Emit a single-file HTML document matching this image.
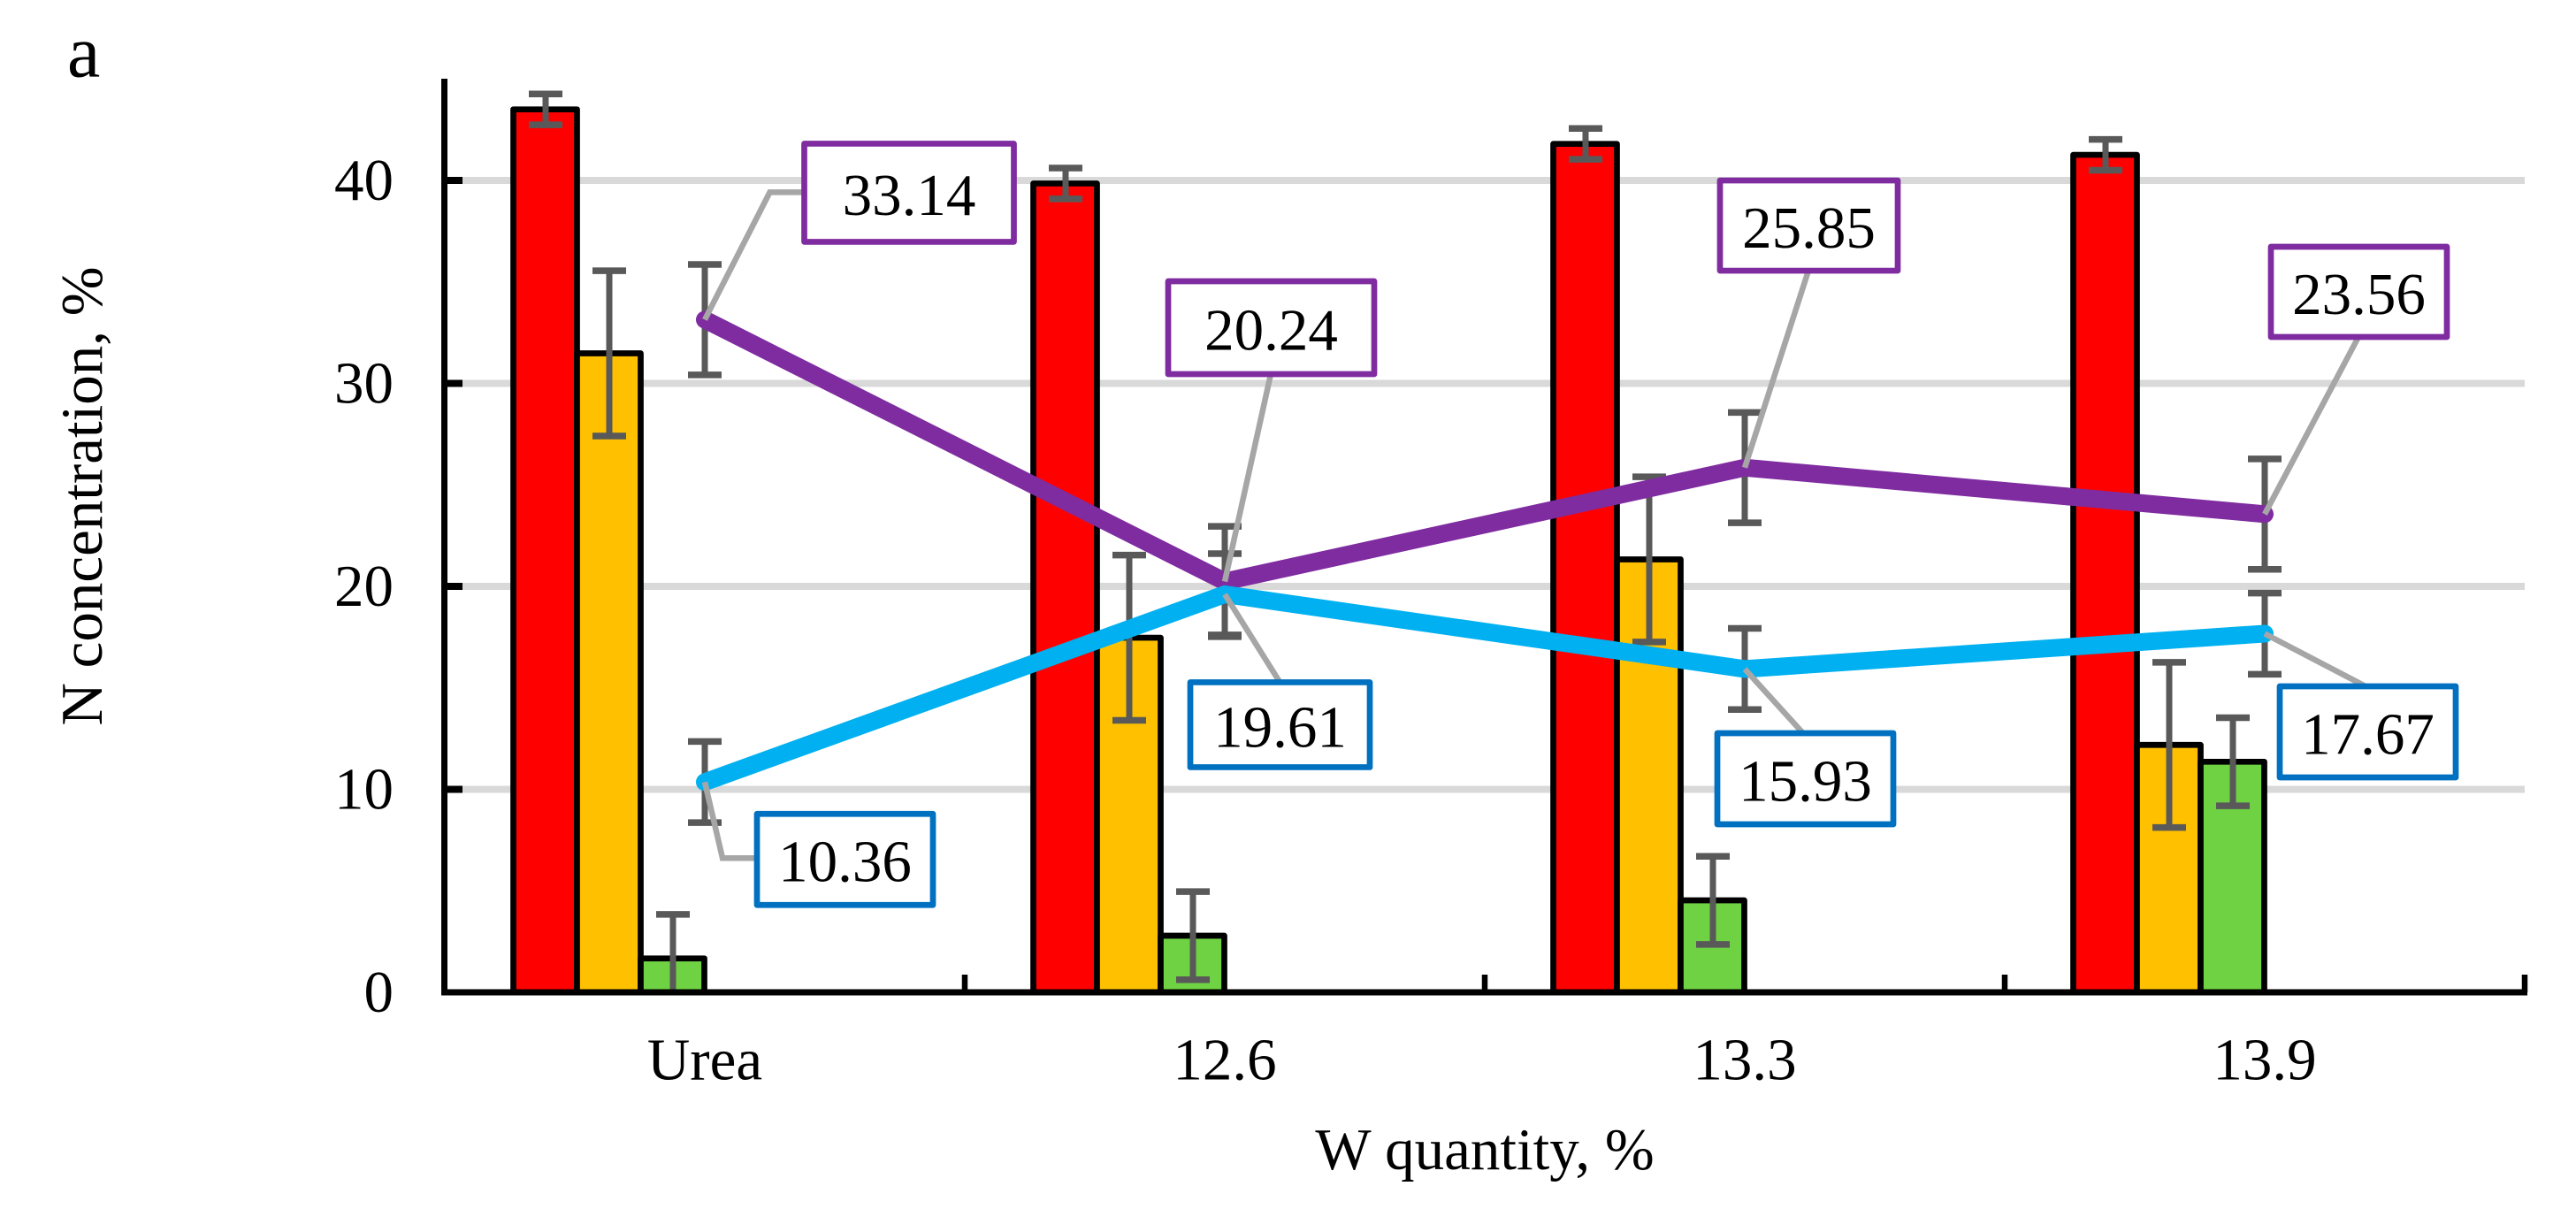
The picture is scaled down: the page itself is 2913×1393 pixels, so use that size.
<!DOCTYPE html>
<html lang="en">
<head>
<meta charset="utf-8">
<title>N concentration vs W quantity</title>
<style>
html,body{margin:0;padding:0;background:#fff;}
svg{display:block;}
text{font-family:"Liberation Serif","Times New Roman",serif;fill:#000;}
</style>
</head>
<body>
<svg id="chart" xmlns="http://www.w3.org/2000/svg" width="2913" height="1393" viewBox="0 0 2913 1393">
  <rect x="0" y="0" width="2913" height="1393" fill="#ffffff"/>
  <text x="76" y="86.5" font-size="84">a</text>
  <text x="115" y="561" font-size="67" text-anchor="middle" transform="rotate(-90 115 561)">N concentration, %</text>
  <text x="1679" y="1322" font-size="67" text-anchor="middle">W quantity, %</text>
</svg>
<script>
const categories = ['Urea', '12.6', '13.3', '13.9'];
const yTicks = [0, 10, 20, 30, 40];

const redValues = [43.5, 39.85, 41.8, 41.26];
const orangeValues = [31.48, 17.47, 21.33, 12.19];
const greenValues = [1.67, 2.79, 4.53, 11.36];
const purpleValues = [33.14, 20.24, 25.85, 23.56];
const blueValues = [10.36, 19.61, 15.93, 17.67];

const redErrors = [0.76, 0.76, 0.76, 0.76];
const orangeErrors = [4.07, 4.07, 4.07, 4.07];
const greenErrors = [2.17, 2.17, 2.17, 2.17];
const purpleErrors = [2.72, 2.72, 2.72, 2.72];
const blueErrors = [2.0, 2.0, 2.0, 2.0];

const svg = document.getElementById('chart');
const NS = 'http://www.w3.org/2000/svg';

function xScale(i) { return 797 + 588 * i; }
function yScale(v) { return 1122 - 22.95 * v; }

function make(tag, attrs) {
  const el = document.createElementNS(NS, tag);
  for (const k in attrs) el.setAttribute(k, attrs[k]);
  svg.appendChild(el);
  return el;
}

/* gridlines */
yTicks.forEach(function (t) {
  if (t === 0) return;
  const grid = make('line', { x1: 503, x2: 2855, y1: yScale(t), y2: yScale(t), stroke: '#d9d9d9', 'stroke-width': 8 });
  
  
});

/* bars */
function drawBars(values, offset, fill, label) {
  values.forEach(function (v, i) {
    const bar = make('rect', {
      x: xScale(i) + offset, y: yScale(v), width: 72, height: yScale(0) - yScale(v),
      fill: fill, stroke: '#000000', 'stroke-width': 6.7, 'stroke-linejoin': 'round'
    });
    
    
  });
}
drawBars(redValues, -216.5, '#ff0000', 'red');
drawBars(orangeValues, -144.5, '#ffc000', 'orange');
drawBars(greenValues, -72.5, '#6fd243', 'green');

/* error bars */
function drawErrors(values, errors, offset, label) {
  values.forEach(function (v, i) {
    const x = xScale(i) + offset;
    const hi = yScale(v + errors[i]);
    const lo = yScale(Math.max(0, v - errors[i]));
    const stem = make('line', { x1: x, x2: x, y1: hi, y2: lo, stroke: '#595959', 'stroke-width': 7 });
    
    
    const top = make('line', { x1: x - 19, x2: x + 19, y1: hi, y2: hi, stroke: '#595959', 'stroke-width': 7.5 });
    
    
    if (v - errors[i] > 0) {
      const bottom = make('line', { x1: x - 19, x2: x + 19, y1: lo, y2: lo, stroke: '#595959', 'stroke-width': 7.5 });
      
      
    }
  });
}
drawErrors(redValues, redErrors, -180, 'red');
drawErrors(orangeValues, orangeErrors, -108, 'orange');
drawErrors(greenValues, greenErrors, -36, 'green');
drawErrors(purpleValues, purpleErrors, 0, 'purple');
drawErrors(blueValues, blueErrors, 0, 'blue');

/* lines */
function drawLine(values, color, label) {
  const pts = values.map(function (v, i) { return xScale(i) + ',' + yScale(v); }).join(' ');
  const line = make('polyline', { points: pts, fill: 'none', stroke: color, 'stroke-width': 20, 'stroke-linejoin': 'miter', 'stroke-linecap': 'round' });
  
  
}
drawLine(purpleValues, '#7f2ca0', 'purple');
drawLine(blueValues, '#00b0f0', 'blue');

/* axes */
const yAxis = make('line', { x1: 502.5, x2: 502.5, y1: 89, y2: 1125, stroke: '#000000', 'stroke-width': 7 });


const xAxis = make('line', { x1: 499, x2: 2858, y1: 1122, y2: 1122, stroke: '#000000', 'stroke-width': 7 });



yTicks.forEach(function (t) {
  const y = yScale(t);
  if (t !== 0) {
    const tick = make('line', { x1: 503, x2: 523, y1: y, y2: y, stroke: '#000000', 'stroke-width': 8 });
    
    
  }
  const label = make('text', { x: 445, y: y + 22, 'font-size': 67, 'text-anchor': 'end' });
  label.textContent = String(t);
  
  
});

categories.forEach(function (c, i) {
  const edge = xScale(i) + 294;
  const tick = make('line', { x1: edge, x2: edge, y1: 1102, y2: 1122, stroke: '#000000', 'stroke-width': 6.5 });
  
  
  const label = make('text', { x: xScale(i), y: 1220.5, 'font-size': 67, 'text-anchor': 'middle' });
  label.textContent = c;
  
  
});

/* callouts: box and leader are placed relative to the data point */
function drawCallout(values, i, color, label, dx, dy, w, h, ax, ay, bx, by) {
  const px = xScale(i);
  const py = yScale(values[i]);
  let pts = px + ',' + py + ' ';
  if (bx !== undefined) pts += (px + bx) + ',' + (py + by) + ' ';
  pts += (px + ax) + ',' + (py + ay);
  const leader = make('polyline', { points: pts, fill: 'none', stroke: '#a6a6a6', 'stroke-width': 6.5 });
  
  
  const box = make('rect', {
    x: px + dx, y: py + dy, width: w, height: h, fill: '#ffffff',
    stroke: color, 'stroke-width': 6.7, 'stroke-linejoin': 'round'
  });
  
  
  const txt = make('text', { x: px + dx + w / 2, y: py + dy + h / 2 + 25, 'font-size': 67, 'text-anchor': 'middle' });
  txt.textContent = values[i].toFixed(2);
  
  
}
drawCallout(purpleValues, 0, '#7f2ca0', 'purple', 112.5, -199, 237, 111, 113, -144, 73.5, -144);
drawCallout(purpleValues, 1, '#7f2ca0', 'purple', -64, -339.5, 233, 105, 52, -234.5);
drawCallout(purpleValues, 2, '#7f2ca0', 'purple', -28, -324.7, 201, 102, 72, -222.7);
drawCallout(purpleValues, 3, '#7f2ca0', 'purple', 7, -302.3, 199, 102, 106, -200.3);
drawCallout(blueValues, 0, '#0070c0', 'blue', 59, 36, 199, 103, 59, 86, 20, 86);
drawCallout(blueValues, 1, '#0070c0', 'blue', -39, 99.5, 203, 96, 62, 99);
drawCallout(blueValues, 2, '#0070c0', 'blue', -31, 72.6, 199, 103, 66, 72.6);
drawCallout(blueValues, 3, '#0070c0', 'blue', 17, 59.5, 199, 103, 114, 59.5);
</script>
</body>
</html>
